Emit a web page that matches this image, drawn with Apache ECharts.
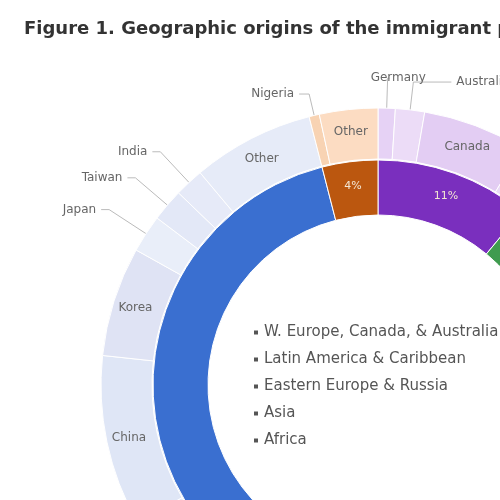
<!DOCTYPE html>
<html>
<head>
<meta charset="utf-8">
<script src="https://cdn.jsdelivr.net/npm/echarts@6/dist/echarts.min.js"></script>
<style>
html,body{margin:0;padding:0;background:#fff;}
#c{width:500px;height:500px;}
</style>
</head>
<body>
<div id="c"></div>
<script>
const titleText = 'Figure 1. Geographic origins of the immigrant population';
const regions = ['W. Europe, Canada, & Australia', 'Latin America & Caribbean', 'Eastern Europe & Russia', 'Asia', 'Africa'];
const regionValues = [11, 12, 9, 64, 4];
const countries = ['Germany', 'Australia', 'Canada', 'Other',
  'Mexico', 'Brazil', 'Other',
  'Russia', 'Ukraine', 'Other',
  'Vietnam', 'Philippines', 'China', 'Korea', 'Japan', 'Taiwan', 'India', 'Other',
  'Nigeria', 'Other'];
const countryValues = [1.0, 1.7, 6.0, 2.3,
  5, 3, 4,
  4, 2, 3,
  18.0, 16.7, 10.0, 6.4, 2.2, 1.9, 1.7, 7.1,
  0.6, 3.4];
const countryRegion = [0, 0, 0, 0, 1, 1, 1, 2, 2, 2, 3, 3, 3, 3, 3, 3, 3, 3, 4, 4];
const outsideLabelled = ['Germany', 'Australia', 'Japan', 'Taiwan', 'India', 'Nigeria'];

const regionColors = ['#7a2fbe', '#3f9b4f', '#c23b4a', '#3a6fd0', '#bb570f'];
const tints = [
  ['#e6d2f5', '#ecdcf7', '#e3cdf3', '#eadaf6'],
  ['#cfe8d3', '#dcefdf', '#c6e3cb'],
  ['#f3cfd3', '#f7dde0', '#efc4c9'],
  ['#dfe5f5', '#e7ebf7', '#dfe6f6', '#dfe3f4', '#e9eef9', '#e3e8f7', '#e6eaf8', '#e6ebf8'],
  ['#f8d3b3', '#fcdcc2']
];
const lineLengths = { Germany: [30, 2], Australia: [28, 38], Japan: [44, 8], Taiwan: [42, 8], India: [42, 8], Nigeria: [22, 10] };
const seen = [0, 0, 0, 0, 0];

const innerData = regions.map((r, i) => ({
  name: r, value: regionValues[i],
  itemStyle: { color: regionColors[i] }
}));

const outerData = countries.map((c, i) => {
  const r = countryRegion[i];
  const col = tints[r][seen[r]++ % tints[r].length];
  const out = outsideLabelled.indexOf(c) >= 0;
  const d = { name: c, value: countryValues[i], itemStyle: { color: col } };
  if (out) {
    d.label = { position: 'outside', show: true };
    d.labelLine = { show: true, length: lineLengths[c][0], length2: lineLengths[c][1] };
  }
  return d;
});

const font = 'DejaVu Sans';
const chart = echarts.init(document.getElementById('c'), null, { renderer: 'canvas' });
chart.setOption({
  animation: false,
  backgroundColor: '#fff',
  title: {
    text: titleText, left: 19, top: 15,
    textStyle: { fontSize: 18, fontWeight: 'bold', color: '#333', fontFamily: font }
  },
  legend: {
    orient: 'vertical', left: 247, top: 320,
    data: regions,
    itemWidth: 6, itemHeight: 6, itemGap: 12,
    icon: 'rect',
    itemStyle: { color: '#555' },
    textStyle: { fontSize: 15, color: '#555', fontFamily: font }
  },
  series: [
    {
      type: 'pie', name: 'Region',
      center: [378, 385], radius: [170, 225],
      startAngle: 90, clockwise: true,
      avoidLabelOverlap: false,
      itemStyle: { borderColor: '#fff', borderWidth: 1 },
      label: {
        show: true, position: 'inside', formatter: '{c}%',
        color: '#f3e6d2', fontSize: 11, fontFamily: font
      },
      labelLine: { show: false },
      data: innerData
    },
    {
      type: 'pie', name: 'Country',
      center: [378, 385], radius: [226, 277],
      startAngle: 90, clockwise: true,
      avoidLabelOverlap: false,
      minShowLabelAngle: 0,
      labelLayout: function (p) {
        return p.dataIndex === 0 ? { dx: -24, hideOverlap: false } : { hideOverlap: false };
      },
      itemStyle: { borderColor: '#fff', borderWidth: 1 },
      label: {
        show: true, position: 'inside', formatter: '{b}',
        color: '#666', fontSize: 12, fontFamily: font
      },
      labelLine: { show: false, lineStyle: { color: '#bbb', width: 1 } },
      data: outerData
    }
  ]
});
</script>
</body>
</html>
